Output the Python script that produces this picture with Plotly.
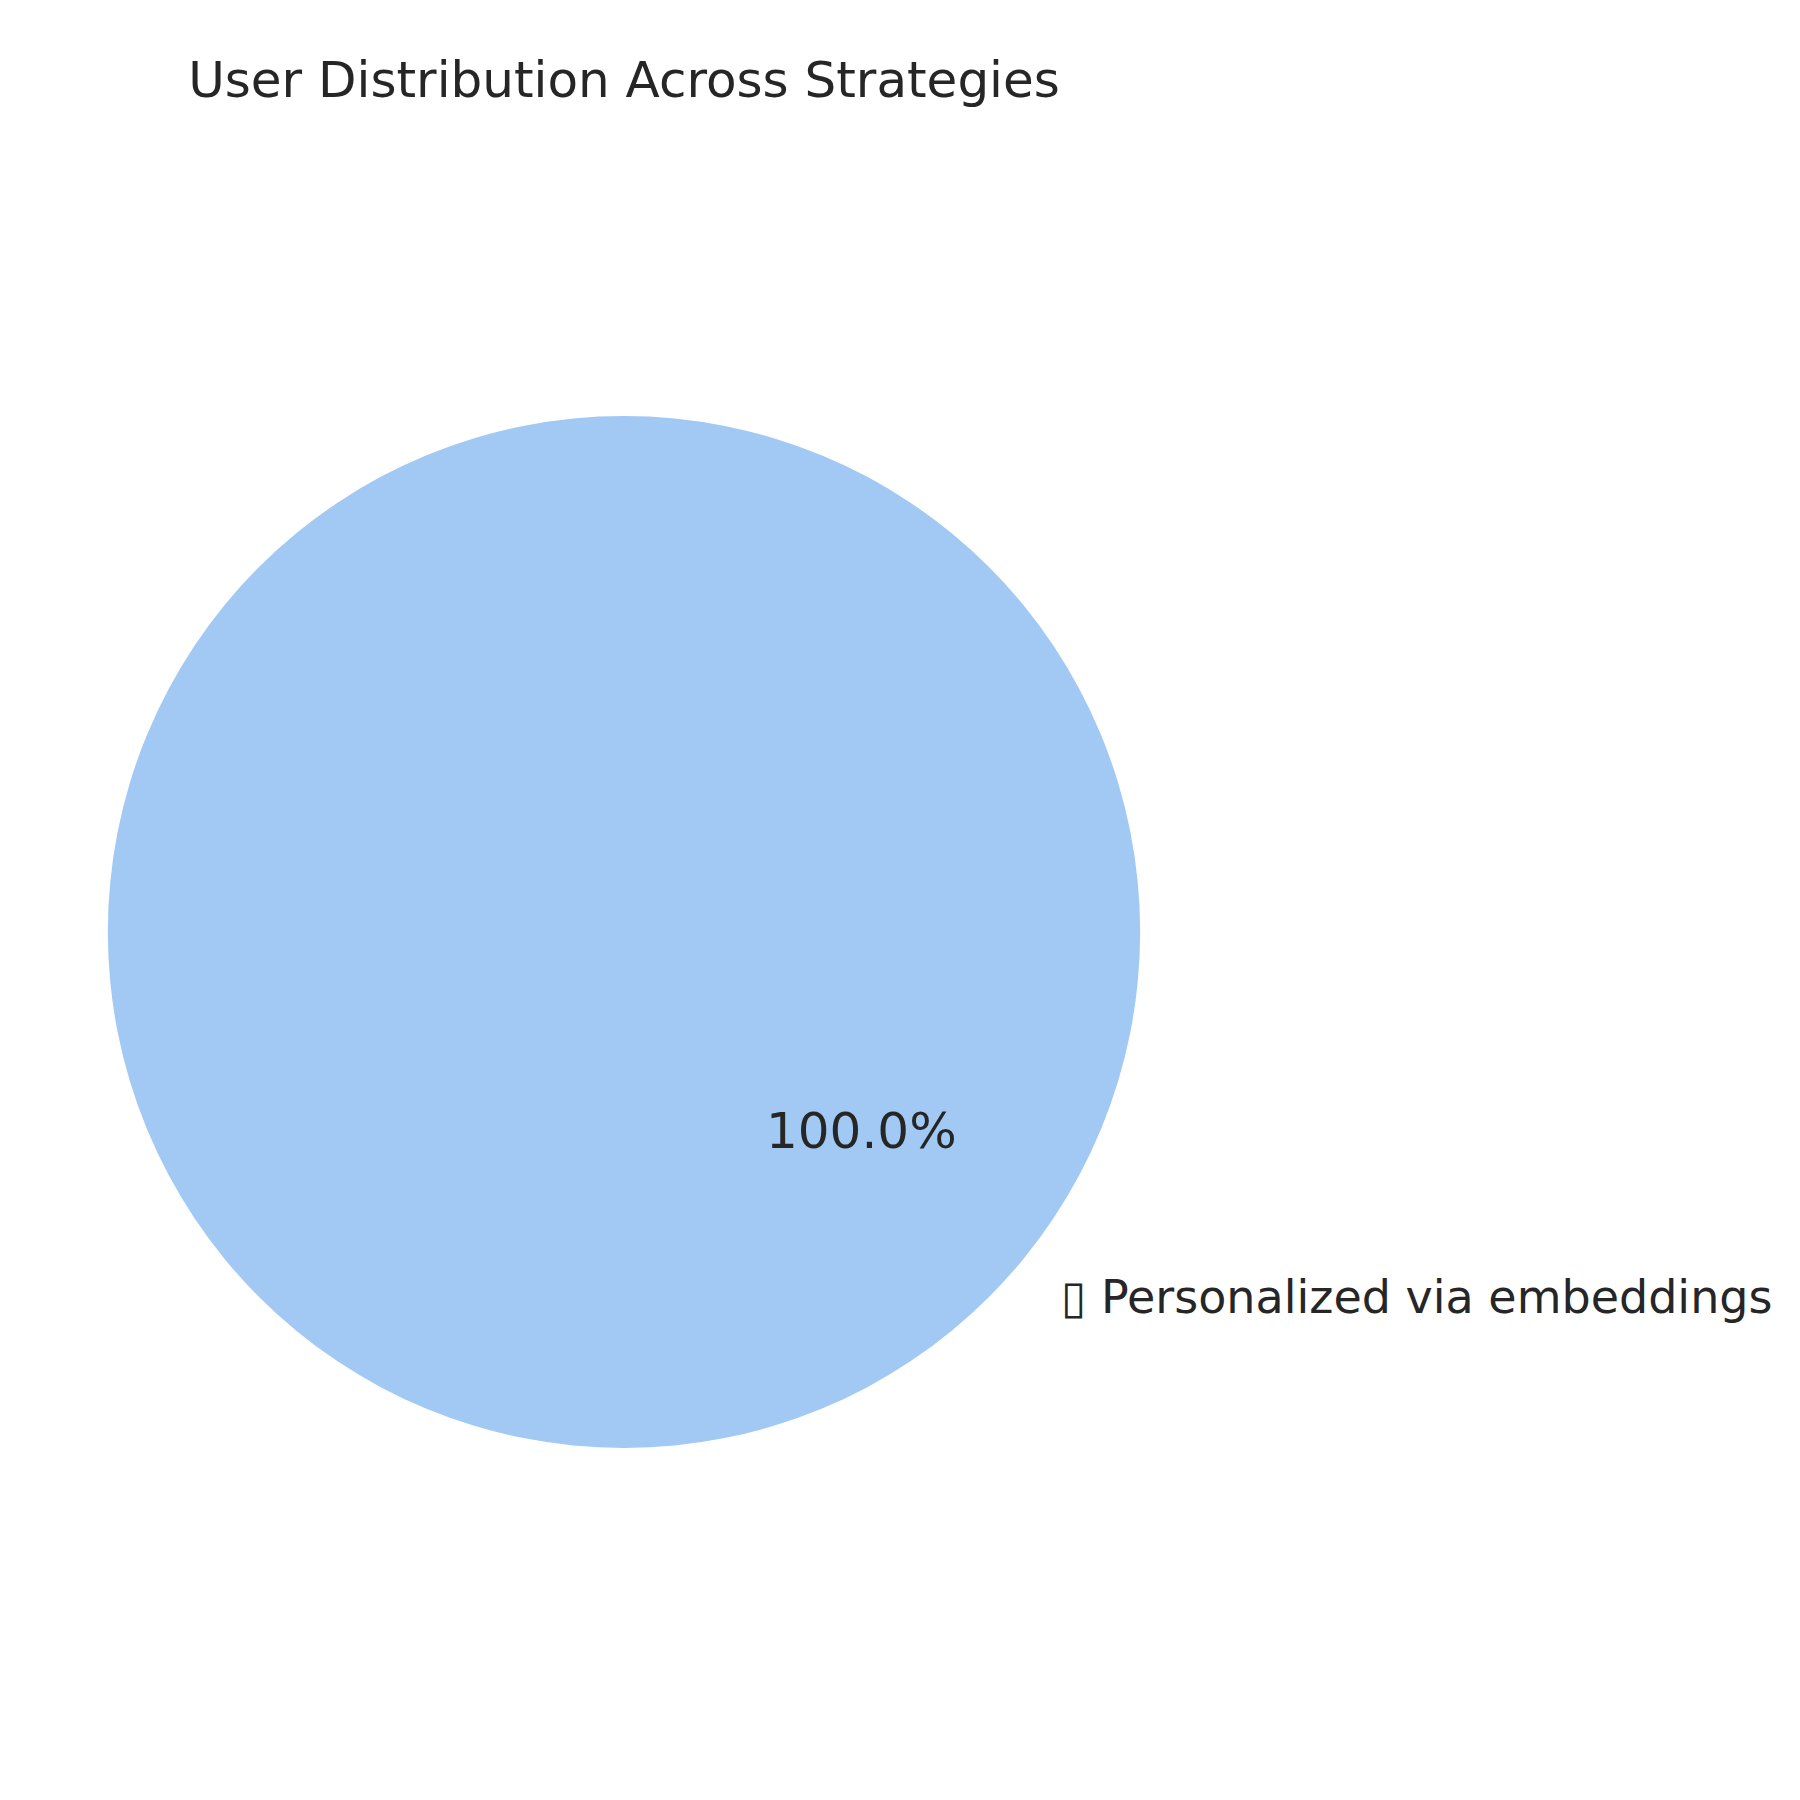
import math
import plotly.graph_objects as go

# Data
labels = ["\u25af Personalized via embeddings"]
values = [100]
colors = ["#a1c9f4"]
title_text = "User Distribution Across Strategies"
start_angle = 140  # degrees, counter-clockwise like matplotlib

W = H = 1800
cx_px, cy_px, r_px = 624, 932, 516

fig = go.Figure(go.Pie(
    labels=labels,
    values=values,
    marker=dict(colors=colors, line=dict(width=0)),
    textinfo="none",
    sort=False,
    direction="counterclockwise",
    showlegend=False,
    domain=dict(x=[(cx_px - r_px) / W, (cx_px + r_px) / W],
                y=[1 - (cy_px + r_px) / H, 1 - (cy_px - r_px) / H]),
))

total = sum(values)
annotations = []
theta = start_angle
for lab, v in zip(labels, values):
    frac = v / total
    mid = math.radians(theta + frac * 360 / 2)
    theta += frac * 360
    # percentage text at 0.6 r
    px = cx_px + 0.6 * r_px * math.cos(mid)
    py = cy_px - 0.6 * r_px * math.sin(mid)
    annotations.append(dict(x=px / W, y=1 - py / H, xref="paper", yref="paper",
                            text=f"{frac*100:.1f}%", showarrow=False,
                            xanchor="center", yanchor="middle",
                            font=dict(size=50, color="#262626", family="DejaVu Sans")))
    # label at 1.1 r
    lx = cx_px + 1.1 * r_px * math.cos(mid)
    ly = cy_px - 1.1 * r_px * math.sin(mid)
    annotations.append(dict(x=lx / W, y=1 - ly / H, xref="paper", yref="paper",
                            text=lab, showarrow=False,
                            xanchor="left" if math.cos(mid) >= 0 else "right",
                            yanchor="middle",
                            font=dict(size=46, color="#262626", family="DejaVu Sans")))

fig.update_layout(
    width=W, height=H,
    margin=dict(l=0, r=0, t=0, b=0),
    paper_bgcolor="white", plot_bgcolor="white",
    title=dict(text=title_text, x=cx_px / W, xanchor="center",
               y=1 - 79 / H, yanchor="middle",
               font=dict(size=50, color="#262626", family="DejaVu Sans")),
    annotations=annotations,
)

fig.write_html("out.html")
